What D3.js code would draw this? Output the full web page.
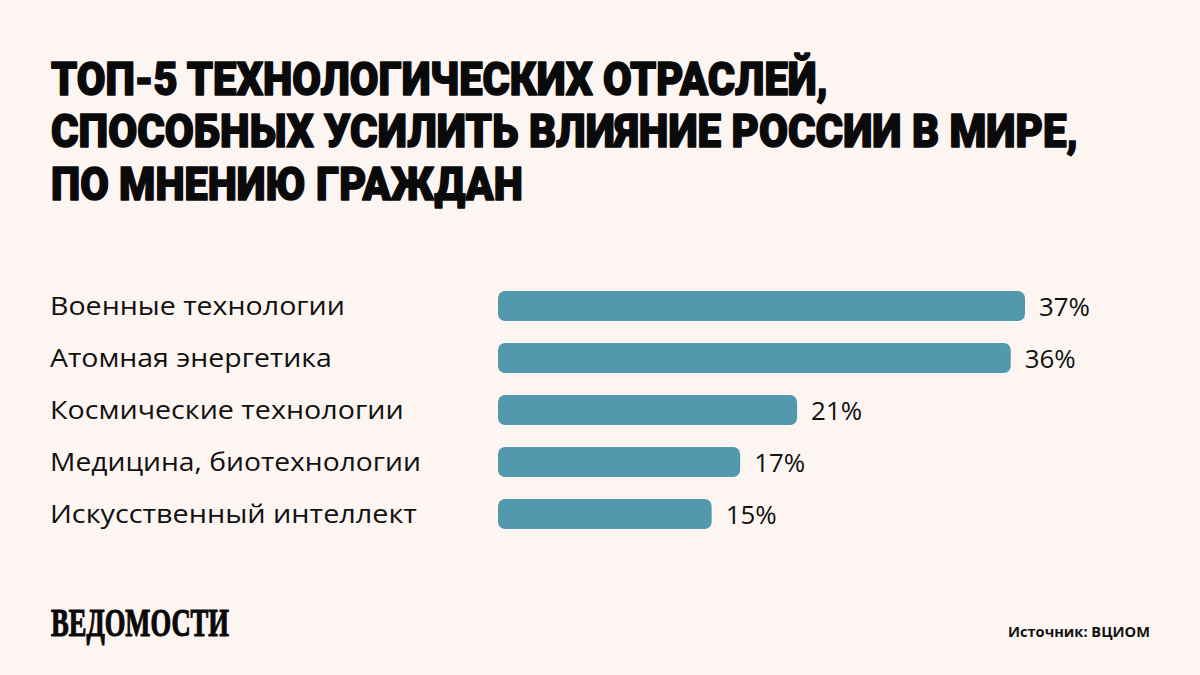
<!DOCTYPE html>
<html><head><meta charset="utf-8">
<script src="https://cdn.jsdelivr.net/npm/d3@7"></script>
<style>
html,body{margin:0;padding:0;background:#fcf5f2;}
svg{display:block;}
</style></head>
<body>
<svg id="c" width="1200" height="675"></svg>
<script>
const titleLines = ["ТОП-5 ТЕХНОЛОГИЧЕСКИХ ОТРАСЛЕЙ,", "СПОСОБНЫХ УСИЛИТЬ ВЛИЯНИЕ РОССИИ В МИРЕ,", "ПО МНЕНИЮ ГРАЖДАН"];
const categories = ["Военные технологии", "Атомная энергетика", "Космические технологии", "Медицина, биотехнологии", "Искусственный интеллект"];
const values = [37, 36, 21, 17, 15];
const sourceText = "Источник: ВЦИОМ";
const logoText = "ВЕДОМОСТИ";

const svg = d3.select("#c");
svg.append("rect").attr("width",1200).attr("height",675).attr("fill","#fcf5f2");

function fitX(sel, x, target){
  const w = sel.node().getComputedTextLength();
  const k = target / w;
  sel.attr("transform", `translate(${x},0) scale(${k},1)`).attr("x", 0);
}

const titleTargets = [777, 1027, 472];
titleLines.forEach((t,i)=>{
  const tx = svg.append("text")
    .attr("y", 95 + i*52.5)
    .attr("font-family","Roboto, 'Open Sans', sans-serif")
    .attr("font-weight", 900)
    .attr("font-size", 46)
    .attr("fill","#0a0a0a")
    .attr("stroke","#0a0a0a")
    .attr("stroke-width", 1.6)
    .attr("stroke-linejoin","round")
    .text(t);
  fitX(tx, 51, titleTargets[i]);
});

const x = d3.scaleLinear().domain([0, 37]).range([498, 1025]);
const y = d3.scaleBand().domain(categories).range([291, 529]).paddingInner(22/52).paddingOuter(0);

const g = svg.append("g");
g.selectAll("rect.bar").data(values).join("rect")
  .attr("class","bar")
  .attr("x", x(0))
  .attr("y", (d,i)=>y(categories[i]))
  .attr("width", d=>x(d)-x(0))
  .attr("height", y.bandwidth())
  .attr("rx", 7).attr("ry", 7)
  .attr("fill", "#5299ae");

const catTargets = [295, 282, 354, 371, 367];
g.selectAll("text.cat").data(categories).join("text")
  .attr("class","cat")
  .attr("y", d=>y(d)+y.bandwidth()/2)
  .attr("dy","0.36em")
  .attr("font-family","'Open Sans', 'Noto Sans', sans-serif")
  .attr("font-size", 25)
  .attr("fill","#111")
  .text(d=>d)
  .each(function(d,i){ fitX(d3.select(this), 50, catTargets[i]); });

g.selectAll("text.val").data(values).join("text")
  .attr("class","val")
  .attr("x", d=>x(d)+14)
  .attr("y", (d,i)=>y(categories[i])+y.bandwidth()/2)
  .attr("dy","0.38em")
  .attr("font-family","'Open Sans', 'Noto Sans', sans-serif")
  .attr("font-size", 26)
  .attr("fill","#111")
  .text(d=>d+"%")
  .each(function(d){ fitX(d3.select(this), x(d)+14, 51); });

const logo = svg.append("text")
  .attr("y", 636)
  .attr("font-family","'Liberation Serif', 'DejaVu Serif', serif")
  .attr("font-weight", 700)
  .attr("font-size", 40)
  .attr("fill","#0a0a0a")
  .attr("stroke","#0a0a0a")
  .attr("stroke-width", 1.2)
  .text(logoText);
fitX(logo, 51, 178);

const src = svg.append("text")
  .attr("y", 637)
  .attr("font-family","'Open Sans', 'Noto Sans', sans-serif")
  .attr("font-weight", 700)
  .attr("font-size", 14)
  .attr("fill","#111")
  .text(sourceText);
fitX(src, 1008, 142);
</script>
</body></html>
